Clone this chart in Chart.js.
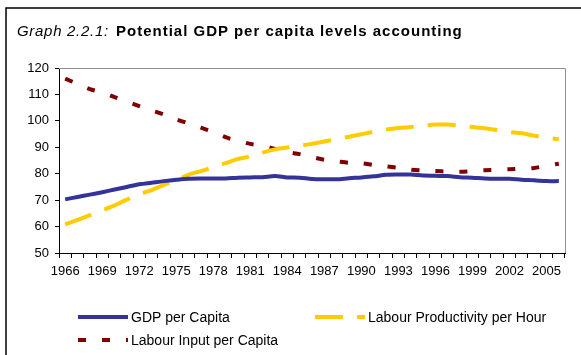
<!DOCTYPE html>
<html>
<head>
<meta charset="utf-8">
<script src="https://cdn.jsdelivr.net/npm/chart.js@4/dist/chart.umd.min.js"></script>
<style>
  html, body { margin: 0; padding: 0; background: #fff; }
  #wrap { position: relative; width: 581px; height: 355px; }
  #title {
    position: absolute; left: 17px; top: 22px;
    font-family: "Liberation Sans", Arial, sans-serif; font-size: 15px; color: #000;
    white-space: nowrap;
  }
  #title i { letter-spacing: 0.7px; margin-right: 3px; }
  #title b { font-weight: bold; letter-spacing: 1px; }
</style>
</head>
<body>
<div id="wrap">
  <canvas id="chart" width="581" height="355"></canvas>
  <div id="title"><i>Graph 2.2.1:</i> <b>Potential GDP per capita levels accounting</b></div>
</div>
<script>
// Data
const years = [];
for (let y = 1966; y <= 2006; y++) years.push(String(y));

const gdpPerCapita = [70.3, 71.2, 72.1, 73.0, 74.0, 75.0, 76.0, 76.6, 77.2, 77.7,
  78.1, 78.2, 78.2, 78.2, 78.5, 78.6, 78.7, 79.1, 78.6, 78.5,
  78.0, 77.9, 77.9, 78.3, 78.6, 79.0, 79.6, 79.7, 79.7, 79.3,
  79.2, 79.1, 78.7, 78.5, 78.2, 78.1, 78.1, 77.7, 77.5, 77.2, 77.2];

const labourProductivity = [60.8, 62.5, 64.3, 66.1, 68.0, 70.2, 72.2, 73.8, 75.8, 77.6,
  79.6, 81.0, 82.4, 84.0, 85.6, 86.5, 88.0, 89.2, 89.9, 90.6,
  91.3, 92.2, 93.1, 94.0, 94.9, 95.9, 96.7, 97.3, 97.7, 98.2,
  98.6, 98.6, 98.1, 97.7, 97.2, 96.5, 95.8, 95.3, 94.4, 93.6, 93.0];

const labourInput = [116.0, 114.0, 112.0, 110.8, 109.0, 107.3, 105.6, 104.0, 102.4, 100.6,
  99.0, 97.4, 95.8, 93.8, 92.4, 91.3, 90.5, 89.4, 88.2, 87.4,
  86.3, 85.3, 84.7, 84.1, 84.0, 83.3, 82.8, 82.2, 81.5, 81.2,
  81.0, 80.8, 80.7, 81.0, 81.3, 81.5, 81.7, 81.9, 82.2, 83.0, 83.8];

const seriesNames = ['GDP per Capita', 'Labour Productivity per Hour', 'Labour Input per Capita'];
const yTicks = [50, 60, 70, 80, 90, 100, 110, 120];

const FONT = '"Liberation Sans", Arial, sans-serif';

// frame, plot border and legend
const decor = {
  id: 'decor',
  afterDraw(chart) {
    const ctx = chart.ctx;
    const a = chart.chartArea;
    ctx.save();
    // outer frame
    ctx.strokeStyle = '#000';
    ctx.lineWidth = 1.5;
    ctx.beginPath();
    ctx.moveTo(6, 356);
    ctx.lineTo(6, 8);
    ctx.lineTo(582, 8);
    ctx.stroke();
    // plot area top/right border
    ctx.strokeStyle = '#909090';
    ctx.lineWidth = 1;
    ctx.beginPath();
    ctx.moveTo(a.left, a.top + 0.5);
    ctx.lineTo(a.right + 0.5, a.top + 0.5);
    ctx.lineTo(a.right + 0.5, a.bottom);
    ctx.stroke();

    // legend
    const items = [
      { ds: 0, x: 78, y: 317 },
      { ds: 1, x: 315, y: 317 },
      { ds: 2, x: 78, y: 340 }
    ];
    ctx.font = '14px ' + FONT;
    ctx.textBaseline = 'middle';
    items.forEach(it => {
      const d = chart.data.datasets[it.ds];
      ctx.strokeStyle = d.borderColor;
      ctx.lineWidth = 4;
      ctx.setLineDash(d.borderDash || []);
      ctx.beginPath();
      ctx.moveTo(it.x, it.y);
      ctx.lineTo(it.x + 50, it.y);
      ctx.stroke();
      ctx.setLineDash([]);
      ctx.fillStyle = '#000';
      ctx.fillText(d.label, it.x + 53, it.y + 1);
    });
    ctx.restore();
  }
};

new Chart(document.getElementById('chart'), {
  type: 'line',
  data: {
    labels: years,
    datasets: [
      { label: seriesNames[0], data: gdpPerCapita, borderColor: '#333399', borderWidth: 4 },
      { label: seriesNames[1], data: labourProductivity, borderColor: '#FFCC00', borderWidth: 4, borderDash: [28, 14] },
      { label: seriesNames[2], data: labourInput, borderColor: '#800000', borderWidth: 4, borderDash: [8, 16] }
    ]
  },
  options: {
    responsive: false,
    animation: false,
    layout: { padding: { left: 0, top: 68, right: 16, bottom: 0 } },
    elements: { point: { radius: 0 }, line: { tension: 0.3, borderCapStyle: 'butt' } },
    plugins: { legend: { display: false }, tooltip: { enabled: false } },
    scales: {
      x: {
        offset: true,
        afterFit: s => { s.height = 102; },
        grid: { offset: true, drawOnChartArea: false, drawTicks: true, tickLength: 5, color: '#000' },
        border: { color: '#000', width: 1 },
        ticks: {
          autoSkip: false, maxRotation: 0, padding: 6,
          color: '#000', font: { family: FONT, size: 13 },
          callback: function (v, i) { return i % 3 === 0 ? this.getLabelForValue(v) : ''; }
        }
      },
      y: {
        min: 50, max: 120,
        afterFit: s => { s.width = 59; },
        afterBuildTicks: s => { s.ticks = yTicks.map(v => ({ value: v })); },
        grid: { drawOnChartArea: false, drawTicks: true, tickLength: 4, color: '#000' },
        border: { color: '#000', width: 1 },
        ticks: { padding: 6, color: '#000', font: { family: FONT, size: 13 } }
      }
    }
  },
  plugins: [decor]
});
</script>
</body>
</html>
